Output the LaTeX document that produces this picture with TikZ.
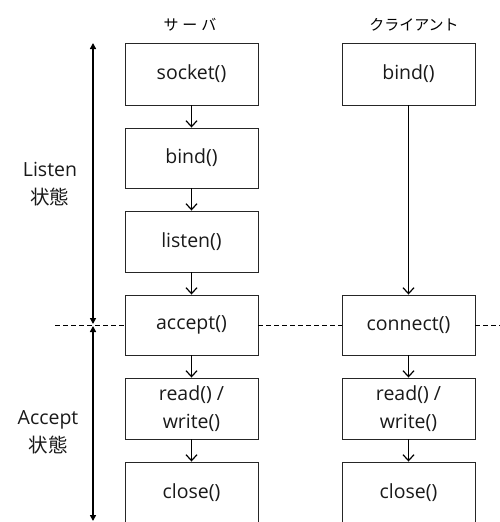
\documentclass[tikz,border=0pt]{standalone}
\usepackage{fontspec}
\setmainfont{Open Sans}
\newfontfamily\jp{Noto Sans CJK JP}
\usetikzlibrary{arrows.meta}
\begin{document}
\begin{tikzpicture}[x=1pt,y=-1pt,
  box/.style={draw=black!85, line width=0.9pt, minimum width=133pt, inner sep=0pt,
    font=\fontsize{19.5}{28}\selectfont, text=black!90, align=center},
  flow/.style={-{Straight Barb[length=6pt,width=11pt,line width=1.2pt]}, line width=1.2pt},
  state/.style={{Triangle[length=6pt,width=6pt]}-{Triangle[length=6pt,width=6pt]}, line width=1.6pt},
  sep/.style={dash pattern=on 5pt off 3pt, line width=1pt},
  head/.style={font=\jp\fontsize{15}{18}\selectfont},
  lbl/.style={align=center, text=black!90, font=\fontsize{19.5}{28}\selectfont}]
\clip (0,0) rectangle (500,522);
% header labels
\node[head] (hs) at (190,25) {サ\hspace{4pt}ー\hspace{4pt}バ};
\node[head] (hc) at (414,25) {クライアント};
% server column
\node[box, minimum height=62pt] (socket) at (191.5,74) {socket()};
\node[box, minimum height=60pt] (bind) at (191.5,158) {bind()};
\node[box, minimum height=61pt] (listen) at (191.5,241.5) {listen()};
\node[box, minimum height=60pt] (accept) at (191.5,325) {accept()};
\node[box, minimum height=61pt] (rw) at (191.5,408.5) {read() /\\write()};
\node[box, minimum height=62pt] (close) at (191.5,493) {close()};
% client column
\node[box, minimum height=62pt] (cbind) at (408.5,74) {bind()};
\node[box, minimum height=60pt] (connect) at (408.5,325) {connect()};
\node[box, minimum height=61pt] (crw) at (408.5,408.5) {read() /\\write()};
\node[box, minimum height=62pt] (cclose) at (408.5,493) {close()};
% flow arrows
\draw[flow] (socket) -- (bind);
\draw[flow] (bind) -- (listen);
\draw[flow] (listen) -- (accept);
\draw[flow] (accept) -- (rw);
\draw[flow] (rw) -- (close);
\draw[flow] (cbind) -- (connect);
\draw[flow] (connect) -- (crw);
\draw[flow] (crw) -- (cclose);
% state arrows
\coordinate (st) at (93,43);
\coordinate (sm1) at (93,324);
\coordinate (sm2) at (93,326);
\coordinate (sb) at (93,521);
\draw[state] (st) -- (sm1);
\draw[state] (sm2) -- (sb);
% dashed separator
\coordinate (dl) at (55,325);
\coordinate (dr) at (500,325);
\draw[sep] (dl) -- (accept.west);
\draw[sep] (accept.east) -- (connect.west);
\draw[sep] (connect.east) -- (dr);
% state labels
\node[lbl] (ls) at (50,184) {Listen\\{\jp 状態}};
\node[lbl] (as) at (48,432) {Accept\\{\jp 状態}};
\end{tikzpicture}
\end{document}
